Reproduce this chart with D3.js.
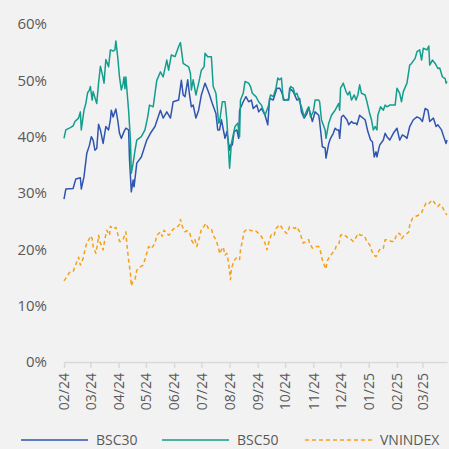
<!DOCTYPE html>
<html>
<head>
<meta charset="utf-8">
<script src="https://cdn.jsdelivr.net/npm/d3@7"></script>
<style>
  html, body { margin: 0; padding: 0; background: #f2f2f2; }
  svg { display: block; }
</style>
</head>
<body>
<div id="chart"><svg></svg></div>
<script>
// day offset from 2024-02-01, percentage value
var startDate = new Date(2024, 1, 1),
    endDate = new Date(2025, 2, 28);

var seriesNames = ["BSC30", "BSC50", "VNINDEX"];

var bsc30 = [[0,28.9],[2,30.7],[10,30.8],[13,32.5],[18,32.7],[19,30.7],[22,32.9],[25,37.0],[28,38.5],[30,40.0],
  [32,39.4],[34,37.6],[36,37.9],[38,42.2],[40,41.2],[43,38.8],[46,41.8],[49,41.2],[51,43.0],[52,44.7],
  [54,43.5],[57,44.9],[59,43.0],[61,40.6],[63,39.7],[66,40.9],[68,41.5],[71,41.2],[72,36.0],[74,30.2],
  [76,32.3],[77,31.1],[80,35.3],[85,36.4],[91,39.4],[95,40.6],[100,41.8],[106,44.7],[109,43.3],[113,44.4],
  [117,43.3],[120,46.2],[126,46.5],[129,50.0],[131,47.4],[133,47.1],[136,50.1],[138,47.4],[140,45.3],[142,45.6],
  [145,43.3],[148,44.7],[151,47.4],[155,49.5],[158,48.3],[160,47.4],[163,45.9],[167,44.1],[169,41.2],[171,41.2],
  [173,43.0],[177,39.7],[179,40.9],[182,37.6],[183,38.5],[185,38.5],[187,40.9],[190,41.2],[192,39.7],[193,44.7],
  [197,46.2],[200,47.1],[203,46.2],[206,46.5],[208,45.0],[212,45.6],[214,44.4],[217,45.0],[221,43.8],[224,42.1],
  [226,46.8],[230,46.5],[234,48.6],[237,48.6],[239,48.0],[242,46.5],[247,46.5],[248,48.6],[252,48.0],[256,46.5],
  [259,46.8],[261,44.4],[264,43.3],[267,44.1],[269,45.2],[272,43.3],[273,42.7],[276,44.4],[280,43.8],[281,42.7],
  [284,38.2],[287,38.0],[288,36.2],[291,38.8],[293,39.7],[296,40.6],[298,41.5],[300,41.2],[302,41.2],[303,39.7],
  [305,43.5],[307,43.8],[311,43.0],[313,42.1],[316,42.7],[318,42.4],[321,42.4],[322,42.1],[325,43.8],[327,43.5],
  [331,43.0],[334,40.9],[337,39.4],[339,39.1],[341,36.4],[343,37.3],[344,36.4],[347,38.5],[351,39.4],[353,40.6],
  [355,40.0],[358,39.4],[362,40.6],[366,41.5],[369,39.4],[372,40.3],[375,40.0],[377,39.7],[380,41.8],[384,43.0],
  [388,43.5],[391,43.3],[394,42.7],[397,45.0],[400,44.7],[402,42.7],[406,43.3],[409,41.8],[411,42.1],[415,41.2],
  [418,39.7],[420,38.8],[421,39.4]];

var bsc50 = [[0,39.7],[2,41.2],[7,41.6],[10,41.9],[12,42.7],[16,43.3],[18,44.4],[19,41.2],[22,44.7],[24,45.9],
  [26,47.8],[28,48.3],[29,48.9],[31,46.5],[32,48.0],[36,45.9],[38,49.5],[40,52.5],[42,51.2],[44,49.5],
  [46,53.7],[49,52.4],[51,55.4],[54,55.2],[56,55.4],[57,57.0],[59,54.2],[61,50.6],[63,48.3],[65,49.5],
  [66,50.6],[67,48.5],[68,50.6],[71,44.7],[73,39.5],[74,33.5],[76,35.3],[78,37.5],[80,39.4],[85,40.0],
  [89,41.2],[92,43.5],[94,45.6],[98,45.3],[102,50.0],[106,51.5],[109,50.6],[113,53.6],[115,51.8],[118,54.5],
  [122,54.2],[126,56.0],[128,56.7],[131,53.0],[137,52.4],[139,51.2],[140,48.3],[142,50.1],[145,47.4],[148,49.5],
  [151,51.8],[154,52.4],[155,54.8],[158,54.2],[162,54.2],[164,48.9],[167,47.7],[170,42.4],[171,42.6],[174,46.2],
  [177,46.2],[179,43.0],[182,34.4],[184,38.8],[188,41.8],[191,42.4],[193,40.0],[194,46.5],[197,47.7],[199,49.8],
  [203,49.5],[205,48.9],[207,47.7],[211,47.1],[214,46.2],[217,45.6],[221,43.8],[225,45.6],[227,47.4],[230,47.1],
  [233,48.6],[235,50.4],[237,50.1],[239,50.4],[241,46.5],[245,46.5],[247,46.8],[249,48.9],[252,48.6],[254,47.4],
  [256,47.7],[259,46.2],[261,45.3],[264,43.5],[267,44.7],[269,45.3],[271,43.5],[274,44.4],[276,46.5],[280,46.5],
  [281,46.2],[283,43.0],[287,41.2],[288,39.7],[291,42.4],[294,43.8],[298,44.7],[302,45.9],[303,44.7],[304,48.6],
  [307,49.5],[310,48.0],[312,47.4],[314,48.0],[316,46.5],[319,47.4],[321,46.5],[323,47.4],[325,49.2],[327,47.7],
  [331,47.4],[333,46.2],[336,44.1],[338,43.0],[340,41.2],[342,41.8],[344,41.2],[345,43.8],[348,45.3],[351,44.7],
  [353,45.6],[355,45.3],[358,45.6],[364,45.6],[366,48.6],[369,47.7],[371,46.2],[373,48.0],[377,49.5],[380,52.7],
  [382,53.0],[386,53.9],[388,55.1],[391,55.4],[393,53.6],[395,55.7],[399,55.4],[401,56.1],[402,52.7],[405,53.6],
  [408,53.0],[411,52.1],[413,52.2],[416,50.6],[419,50.3],[420,49.5],[421,49.8]];

var vnindex = [[0,14.4],[3,15.1],[6,15.9],[10,16.0],[12,16.9],[16,18.6],[18,17.2],[21,18.4],[23,19.9],[25,21.2],
  [28,21.9],[29,22.4],[31,21.9],[32,20.5],[35,19.3],[37,21.1],[38,22.5],[40,21.1],[43,19.9],[45,21.9],
  [47,23.4],[50,22.5],[51,24.1],[54,23.6],[57,23.9],[59,22.8],[61,21.4],[63,21.4],[65,21.8],[68,23.1],
  [69,21.1],[71,18.1],[73,15.7],[74,13.5],[76,14.4],[78,14.6],[80,16.3],[84,16.9],[87,17.2],[90,18.7],
  [93,20.5],[96,20.1],[100,21.1],[102,22.5],[106,23.1],[108,22.3],[110,23.4],[113,22.8],[115,22.5],[117,22.8],
  [120,23.6],[124,23.9],[127,24.4],[128,25.3],[130,24.1],[133,23.1],[135,23.3],[138,23.1],[140,21.7],[142,21.1],
  [144,21.7],[146,20.5],[149,22.2],[151,23.6],[154,24.1],[156,24.6],[159,23.6],[162,23.6],[164,22.5],[167,21.7],
  [170,20.2],[171,19.2],[173,19.9],[175,20.4],[177,19.0],[179,19.3],[181,17.5],[182,16.0],[183,14.6],[184,16.6],
  [187,18.0],[190,18.6],[193,18.2],[194,19.9],[196,21.4],[198,23.1],[201,23.6],[206,23.3],[210,23.4],[214,22.8],
  [217,22.3],[221,21.1],[223,19.9],[226,21.7],[228,22.7],[231,22.5],[233,23.7],[237,24.4],[239,24.0],[241,23.4],
  [245,22.8],[248,24.0],[250,24.0],[254,23.7],[256,24.0],[259,23.1],[261,22.1],[263,21.1],[266,21.4],[269,21.7],
  [270,21.1],[273,20.2],[276,20.5],[280,20.5],[282,19.6],[284,18.1],[286,17.2],[288,16.5],[289,17.8],[292,18.8],
  [294,19.1],[298,19.9],[299,20.5],[302,20.8],[304,22.5],[307,22.7],[311,22.2],[312,22.0],[316,21.7],[318,21.4],
  [321,22.1],[323,22.8],[326,22.5],[329,22.5],[331,22.1],[333,21.4],[336,20.8],[338,19.9],[340,19.0],[343,18.7],
  [345,19.4],[348,20.2],[351,20.2],[353,21.7],[356,21.7],[360,21.4],[363,21.4],[366,22.8],[369,22.8],[371,21.9],
  [374,22.5],[377,22.8],[379,23.1],[380,24.3],[383,25.5],[386,25.8],[390,26.1],[393,26.4],[395,27.3],[398,28.2],
  [401,28.0],[402,28.3],[405,28.8],[408,28.1],[411,27.6],[413,28.0],[416,27.5],[419,26.5],[421,26.1]];

var yTicks = [0, 10, 20, 30, 40, 50, 60];
var colors = ["#2f55b0", "#129e8c", "#f5a01a"];

var width = 449, height = 449;
var margin = {top: 24, right: 2, bottom: 87, left: 64};

var svg = d3.select("svg").attr("width", width).attr("height", height);
svg.append("rect").attr("width", width).attr("height", height).attr("fill", "#f2f2f2");

var x = d3.scaleTime()
    .domain([startDate, endDate])
    .range([margin.left, width - margin.right]);
var y = d3.scaleLinear()
    .domain([0, 60])
    .range([height - margin.bottom, margin.top]);

function toDate(d) { return d3.timeDay.offset(startDate, d[0]); }

// y axis labels (no line)
var yAxis = svg.append("g")
    .attr("transform", "translate(" + (margin.left - 17) + ",0)")
    .call(d3.axisLeft(y).tickValues(yTicks).tickSize(0).tickPadding(0)
        .tickFormat(function(d) { return d + "%"; }));
yAxis.select(".domain").remove();
yAxis.selectAll("text")
    .attr("fill", "#595959")
    .style("font-family", "'Open Sans', sans-serif")
    .style("font-size", "15px");

// x axis
var months = d3.timeMonth.range(startDate, endDate);
var xAxis = svg.append("g")
    .attr("transform", "translate(0," + y(0) + ")")
    .call(d3.axisBottom(x).tickValues(months).tickSize(6).tickSizeOuter(0)
        .tickFormat(d3.timeFormat("%m/%y")));
xAxis.select(".domain").attr("stroke", "#d9d9d9").attr("stroke-width", 1.5);
xAxis.selectAll(".tick line").attr("stroke", "#d9d9d9").attr("stroke-width", 1.5);
xAxis.selectAll("text")
    .attr("fill", "#595959")
    .style("font-family", "'Open Sans', sans-serif")
    .style("font-size", "14px")
    .attr("transform", "rotate(-90)")
    .attr("text-anchor", "end")
    .attr("x", -11)
    .attr("y", 0)
    .attr("dy", "0.35em");

var line = d3.line()
    .x(function(d) { return x(toDate(d)); })
    .y(function(d) { return y(d[1]); });

var allSeries = [bsc30, bsc50, vnindex];
svg.selectAll("path.series")
    .data(allSeries)
    .enter()
    .append("path")
        .attr("class", "series")
        .attr("d", line)
        .attr("fill", "none")
        .attr("stroke", function(d, i) { return colors[i]; })
        .attr("stroke-width", 1.5)
        .attr("stroke-linejoin", "round")
        .attr("stroke-dasharray", function(d, i) { return i == 2 ? "4,3" : null; });

// legend
var legendX = [21, 162, 305];
var legend = svg.selectAll("g.legend")
    .data(seriesNames)
    .enter()
    .append("g")
        .attr("class", "legend")
        .attr("transform", function(d, i) { return "translate(" + legendX[i] + ",440)"; });
legend.append("line")
    .attr("x1", 0).attr("x2", 67)
    .attr("stroke", function(d, i) { return colors[i]; })
    .attr("stroke-width", 1.5)
    .attr("stroke-dasharray", function(d, i) { return i == 2 ? "4,3" : null; });
legend.append("text")
    .attr("x", 75)
    .attr("dy", "0.33em")
    .attr("fill", "#595959")
    .style("font-family", "'Open Sans', sans-serif")
    .style("font-size", "14px")
    .text(function(d) { return d; });
</script>
</body>
</html>
